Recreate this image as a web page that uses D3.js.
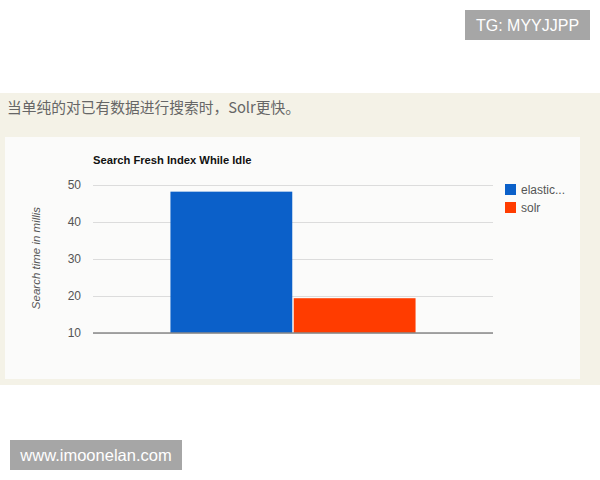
<!DOCTYPE html>
<html><head><meta charset="utf-8">
<script src="https://cdn.jsdelivr.net/npm/d3@7"></script>
<style>html,body{margin:0;padding:0;background:#fff;}svg{display:block;}</style>
</head><body>
<svg id="c" width="600" height="480"></svg>
<script>
const categories = ["Search Fresh Index While Idle"];
const seriesNames = ["elastic...", "solr"];
const seriesValues = [48.2, 19.4];
const yTicks = [10, 20, 30, 40, 50];
const colors = ["#0b60c9", "#ff3c00"];

const svg = d3.select("#c");
// backgrounds
svg.append("rect").attr("x",0).attr("y",93).attr("width",600).attr("height",292).attr("fill","#f4f2e7");
svg.append("rect").attr("x",5).attr("y",137).attr("width",575).attr("height",242).attr("fill","#fbfbfa");

svg.append("text").attr("x",7).attr("y",113).attr("font-family","'Noto Sans CJK SC', sans-serif")
  .attr("font-size",15).attr("fill","#666").attr("textLength",293).attr("lengthAdjust","spacingAndGlyphs")
  .text("当单纯的对已有数据进行搜索时，Solr更快。");

const x0 = 93, x1 = 493, yTop = 185, yBot = 333;
const y = d3.scaleLinear().domain([10,50]).range([yBot, yTop]);
const xb = d3.scaleBand().domain(categories).range([x0,x1]).paddingInner(0).paddingOuter(0.316);
const xs = d3.scaleBand().domain(seriesNames).range([0, xb.bandwidth()]).paddingInner(0.012);

// gridlines
const yAxis = d3.axisLeft(y).tickValues(yTicks).tickSize(-(x1-x0)).tickPadding(12);
const ga = svg.append("g").attr("transform",`translate(${x0},0)`).call(yAxis);
ga.select(".domain").remove();
ga.selectAll(".tick line").attr("stroke","#dcdcdc").attr("stroke-width",1.2);
ga.selectAll(".tick text").attr("font-family","Arial, 'Liberation Sans', sans-serif").attr("font-size",12).attr("fill","#555");

// bars
svg.append("g").selectAll("rect").data(seriesNames).join("rect")
  .attr("x", (d)=> xb(categories[0]) + xs(d))
  .attr("width", xs.bandwidth())
  .attr("y", (d,i)=> y(seriesValues[i]))
  .attr("height", (d,i)=> yBot - y(seriesValues[i]))
  .attr("fill", (d,i)=> colors[i]);

// baseline
svg.append("line").attr("x1",x0).attr("x2",x1).attr("y1",yBot).attr("y2",yBot).attr("stroke","#888").attr("stroke-width",1.5);

// title
svg.append("text").attr("x",93).attr("y",164).attr("font-family","Arial, 'Liberation Sans', sans-serif")
  .attr("font-size",11.2).attr("font-weight","bold").attr("fill","#111").text(categories[0]);

// y title
svg.append("text").attr("transform","translate(40,258) rotate(-90)").attr("text-anchor","middle")
  .attr("font-family","Arial, 'Liberation Sans', sans-serif").attr("font-size",11.5).attr("font-style","italic")
  .attr("fill","#555").text("Search time in millis");

// legend
const lg = svg.append("g").attr("transform","translate(505,184)");
seriesNames.forEach((n,i)=>{
  lg.append("rect").attr("x",0).attr("y",i*18).attr("width",11).attr("height",11).attr("fill",colors[i]);
  lg.append("text").attr("x",16).attr("y",i*18+10).attr("font-family","Arial, 'Liberation Sans', sans-serif")
    .attr("font-size",12).attr("fill","#555").text(n);
});

// watermarks
svg.append("rect").attr("x",465).attr("y",10).attr("width",125).attr("height",30).attr("fill","#a6a6a6");
svg.append("text").attr("x",527.5).attr("y",31).attr("text-anchor","middle").attr("font-family","'Liberation Sans', Arial, sans-serif")
  .attr("font-size",16).attr("fill","#fff").text("TG: MYYJJPP");
svg.append("rect").attr("x",10).attr("y",440).attr("width",172).attr("height",30).attr("fill","#a6a6a6");
svg.append("text").attr("x",96).attr("y",461).attr("text-anchor","middle").attr("font-family","'Liberation Sans', Arial, sans-serif")
  .attr("font-size",16.5).attr("fill","#fff").text("www.imoonelan.com");
</script>
</body></html>
